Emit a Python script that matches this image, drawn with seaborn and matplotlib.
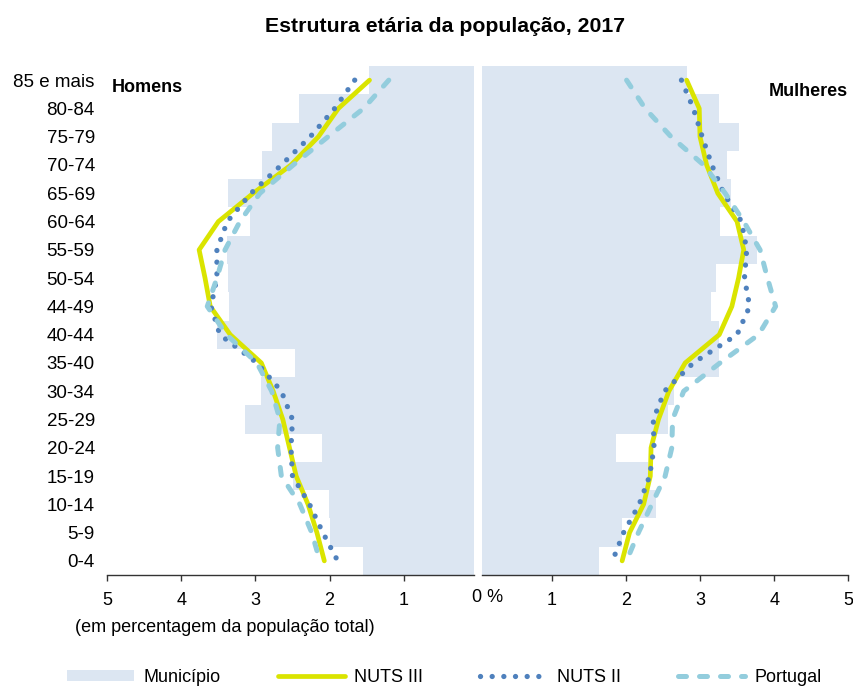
import numpy as np
import matplotlib.pyplot as plt
import seaborn as sns
from matplotlib.patches import Patch
from matplotlib.lines import Line2D

ages = ["85 e mais", "80-84", "75-79", "70-74", "65-69", "60-64", "55-59", "50-54", "44-49",
        "40-44", "35-40", "30-34", "25-29", "20-24", "15-19", "10-14", "5-9", "0-4"]

# Homens (% da população total)
men_municipio = [1.47, 2.41, 2.78, 2.91, 3.37, 3.08, 3.38, 3.37, 3.36, 3.52, 2.47, 2.92, 3.14, 2.10, 2.49, 2.01, 1.99, 1.55]
men_nuts3 = [1.46, 1.88, 2.15, 2.52, 3.03, 3.50, 3.76, 3.68, 3.61, 3.34, 2.92, 2.76, 2.63, 2.54, 2.45, 2.29, 2.17, 2.07]
men_nuts2 = [1.66, 1.93, 2.26, 2.65, 3.06, 3.38, 3.52, 3.52, 3.60, 3.48, 2.98, 2.65, 2.50, 2.52, 2.50, 2.27, 2.09, 1.89]
men_portugal = [1.20, 1.54, 2.02, 2.49, 2.94, 3.21, 3.41, 3.52, 3.65, 3.39, 2.98, 2.78, 2.67, 2.70, 2.65, 2.40, 2.24, 2.13]

# Mulheres
women_municipio = [2.82, 3.26, 3.53, 3.36, 3.42, 3.27, 3.77, 3.22, 3.15, 3.26, 3.26, 2.65, 2.57, 1.87, 2.30, 2.41, 1.95, 1.64]
women_nuts3 = [2.82, 2.99, 3.00, 3.09, 3.24, 3.50, 3.59, 3.52, 3.43, 3.26, 2.80, 2.58, 2.44, 2.34, 2.33, 2.24, 2.05, 1.95]
women_nuts2 = [2.75, 2.91, 3.03, 3.16, 3.32, 3.56, 3.63, 3.60, 3.67, 3.50, 2.91, 2.52, 2.37, 2.38, 2.32, 2.18, 1.97, 1.82]
women_portugal = [2.01, 2.26, 2.61, 3.05, 3.34, 3.59, 3.81, 3.91, 4.02, 3.79, 3.27, 2.78, 2.63, 2.62, 2.53, 2.35, 2.17, 2.01]

BAR = "#DCE6F2"
C_N3 = "#DAE400"
C_N2 = "#4F81BD"
C_PT = "#93CDDD"

sns.set_style("white")
plt.rcParams['font.family'] = ['Liberation Sans', 'DejaVu Sans']
plt.rcParams['text.color'] = 'black'
plt.rcParams['xtick.color'] = 'black'
plt.rcParams['ytick.color'] = 'black'

fig = plt.figure(figsize=(8.54, 6.87), dpi=100)
ax_h = fig.add_axes([0.1256, 0.1630, 0.4294, 0.7409])
ax_m = fig.add_axes([0.5644, 0.1630, 0.4289, 0.7409])

pos = np.arange(len(ages))

styles = {
    "nuts3": dict(color=C_N3, lw=3.4, linestyle="-", solid_capstyle="round"),
    "nuts2": dict(color=C_N2, lw=3.8, linestyle=(0, (0.01, 2.2)), dash_capstyle="round"),
    "pt": dict(color=C_PT, lw=3.6, linestyle=(0, (1.6, 2.6)), dash_capstyle="round"),
}


def draw_side(ax, municipio, nuts3, nuts2, portugal):
    sns.barplot(x=municipio, y=ages, orient="h", color=BAR, width=1.0,
                saturation=1, edgecolor="none", linewidth=0, ax=ax)
    sns.lineplot(x=nuts3, y=pos, sort=False, orient="y", ax=ax, **styles["nuts3"])
    sns.lineplot(x=nuts2, y=pos, sort=False, orient="y", ax=ax, **styles["nuts2"])
    sns.lineplot(x=portugal, y=pos, sort=False, orient="y", ax=ax, **styles["pt"])
    ax.set_ylim(len(ages) - 0.5, -0.5)
    ax.set_xlabel("")
    ax.set_ylabel("")
    for s in ["top", "left", "right"]:
        ax.spines[s].set_visible(False)
    ax.spines["bottom"].set_color("#333333")
    ax.spines["bottom"].set_linewidth(1.0)
    ax.tick_params(axis="x", direction="out", length=4, width=1, color="#333333",
                   labelcolor="black", labelsize=13, pad=8, bottom=True)


draw_side(ax_h, men_municipio, men_nuts3, men_nuts2, men_portugal)
draw_side(ax_m, women_municipio, women_nuts3, women_nuts2, women_portugal)

ax_h.set_xlim(5, 0.05)
ax_h.set_xticks([5, 4, 3, 2, 1])
ax_h.set_xticklabels(["5", "4", "3", "2", "1"])
ax_h.tick_params(axis="y", length=0, pad=9, labelsize=13.5, labelcolor="black")

ax_m.set_xlim(0.06, 5)
ax_m.set_xticks([1, 2, 3, 4, 5])
ax_m.set_xticklabels(["1", "2", "3", "4", "5"])
ax_m.set_yticklabels([])
ax_m.tick_params(axis="y", length=0)

ax_h.text(0.013, 0.958, "Homens", transform=ax_h.transAxes, fontsize=13,
          fontweight="bold", ha="left", va="center")
ax_m.text(0.998, 0.950, "Mulheres", transform=ax_m.transAxes, fontsize=13,
          fontweight="bold", ha="right", va="center")

fig.text(472 / 854, 1 - 598 / 687, "0 %", fontsize=13, ha="left", va="center")
fig.text(445 / 854, 1 - 27 / 687, "Estrutura etária da população, 2017",
         fontsize=15.3, fontweight="bold", ha="center", va="center")
fig.text(75 / 854, 1 - 628 / 687, "(em percentagem da população total)",
         fontsize=13, ha="left", va="center")

handles = [
    Patch(facecolor=BAR, edgecolor="none", label="Município"),
    Line2D([], [], label="NUTS III", **styles["nuts3"]),
    Line2D([], [], label="NUTS II", **styles["nuts2"]),
    Line2D([], [], label="Portugal", **styles["pt"]),
]
fig.legend(handles=handles, loc="center left", bbox_to_anchor=(67 / 854, 1 - 677 / 687),
           ncol=4, frameon=False, fontsize=13, handlelength=3.7, handleheight=0.55,
           handletextpad=0.55, columnspacing=3.15, borderpad=0, borderaxespad=0)

fig.savefig("out.png", dpi=100)
